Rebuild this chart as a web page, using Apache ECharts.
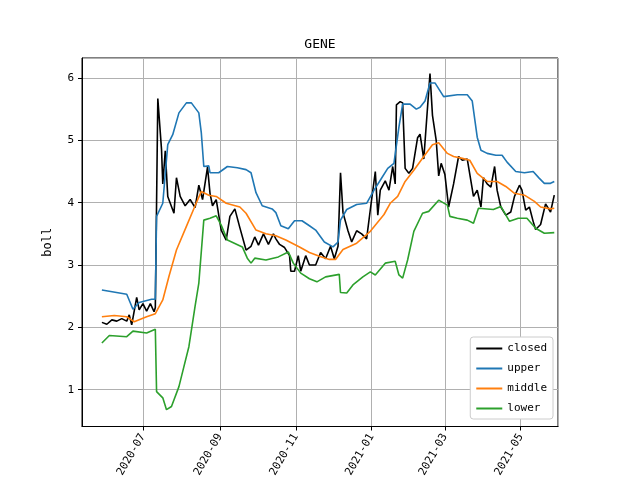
<!DOCTYPE html>
<html>
<head>
<meta charset="utf-8">
<script src="https://cdn.jsdelivr.net/npm/echarts@6/dist/echarts.min.js"></script>
<style>html,body{margin:0;padding:0;background:#fff}#chart{width:640px;height:480px}</style>
</head>
<body>
<div id="chart"></div>
<script>
var closedData = [
    ["2020-05-29",2.08],["2020-06-02",2.05],["2020-06-06",2.12],["2020-06-10",2.10],["2020-06-14",2.14],
    ["2020-06-18",2.10],["2020-06-20",2.20],["2020-06-22",2.04],["2020-06-26",2.48],["2020-06-28",2.28],
    ["2020-07-01",2.38],["2020-07-04",2.26],["2020-07-07",2.38],["2020-07-10",2.25],["2020-07-11",2.32],
    ["2020-07-13",5.67],["2020-07-16",4.85],["2020-07-17",4.30],["2020-07-19",4.83],["2020-07-21",4.10],
    ["2020-07-26",3.83],["2020-07-28",4.40],["2020-07-31",4.10],["2020-08-04",3.95],["2020-08-08",4.05],
    ["2020-08-12",3.92],["2020-08-15",4.28],["2020-08-18",4.05],["2020-08-22",4.57],["2020-08-24",4.15],
    ["2020-08-26",3.95],["2020-08-29",4.05],["2020-09-02",3.56],["2020-09-06",3.40],["2020-09-09",3.78],
    ["2020-09-13",3.90],["2020-09-17",3.60],["2020-09-22",3.24],["2020-09-26",3.30],["2020-09-29",3.45],
    ["2020-10-02",3.32],["2020-10-06",3.50],["2020-10-10",3.33],["2020-10-14",3.50],["2020-10-16",3.42],
    ["2020-10-19",3.33],["2020-10-23",3.28],["2020-10-27",3.15],["2020-10-28",2.90],["2020-10-31",2.90],
    ["2020-11-03",3.15],["2020-11-05",2.90],["2020-11-09",3.15],["2020-11-12",3.00],["2020-11-17",3.00],
    ["2020-11-21",3.20],["2020-11-25",3.10],["2020-11-29",3.30],["2020-12-02",3.10],["2020-12-05",3.30],
    ["2020-12-07",4.48],["2020-12-09",3.84],["2020-12-13",3.55],["2020-12-16",3.37],["2020-12-20",3.55],
    ["2020-12-24",3.50],["2020-12-28",3.42],["2020-12-31",3.89],["2021-01-04",4.50],["2021-01-06",3.80],
    ["2021-01-08",4.20],["2021-01-12",4.35],["2021-01-15",4.20],["2021-01-18",4.58],["2021-01-20",4.30],
    ["2021-01-21",5.57],["2021-01-24",5.62],["2021-01-26",5.60],["2021-01-28",4.55],["2021-01-31",4.47],
    ["2021-02-03",4.55],["2021-02-07",5.04],["2021-02-09",5.10],["2021-02-12",4.70],["2021-02-17",6.07],
    ["2021-02-19",5.40],["2021-02-22",5.00],["2021-02-24",4.43],["2021-02-26",4.63],["2021-03-01",4.45],
    ["2021-03-04",3.93],["2021-03-08",4.30],["2021-03-12",4.74],["2021-03-15",4.68],["2021-03-19",4.70],
    ["2021-03-24",4.10],["2021-03-27",4.20],["2021-03-30",3.93],["2021-04-01",4.40],["2021-04-04",4.30],
    ["2021-04-07",4.25],["2021-04-10",4.58],["2021-04-12",4.20],["2021-04-15",3.93],["2021-04-19",3.80],
    ["2021-04-23",3.85],["2021-04-26",4.10],["2021-04-30",4.28],["2021-05-02",4.20],["2021-05-05",3.88],
    ["2021-05-08",3.93],["2021-05-11",3.70],["2021-05-13",3.57],["2021-05-17",3.65],["2021-05-21",3.98],
    ["2021-05-25",3.85],["2021-05-28",4.12]
];
var upperData = [
    ["2020-05-29",2.60],["2020-06-18",2.53],["2020-06-23",2.29],["2020-06-28",2.40],["2020-07-08",2.45],
    ["2020-07-11",2.45],["2020-07-12",3.78],["2020-07-17",3.99],["2020-07-21",4.93],["2020-07-25",5.09],
    ["2020-07-30",5.44],["2020-08-05",5.60],["2020-08-09",5.60],["2020-08-15",5.44],["2020-08-17",5.12],
    ["2020-08-19",4.58],["2020-08-23",4.59],["2020-08-24",4.48],["2020-08-31",4.48],["2020-09-07",4.58],
    ["2020-09-15",4.56],["2020-09-22",4.53],["2020-09-26",4.48],["2020-09-30",4.16],["2020-10-05",3.95],
    ["2020-10-13",3.90],["2020-10-16",3.84],["2020-10-20",3.63],["2020-10-26",3.58],["2020-10-31",3.71],
    ["2020-11-06",3.71],["2020-11-12",3.63],["2020-11-17",3.56],["2020-11-24",3.37],["2020-12-01",3.29],
    ["2020-12-05",3.37],["2020-12-07",3.72],["2020-12-12",3.89],["2020-12-20",3.97],["2020-12-28",3.99],
    ["2021-01-03",4.20],["2021-01-08",4.36],["2021-01-14",4.55],["2021-01-19",4.63],["2021-01-23",5.21],
    ["2021-01-26",5.58],["2021-02-01",5.58],["2021-02-06",5.50],["2021-02-09",5.53],["2021-02-13",5.63],
    ["2021-02-17",5.92],["2021-02-21",5.92],["2021-02-28",5.70],["2021-03-11",5.73],["2021-03-19",5.73],
    ["2021-03-23",5.63],["2021-03-27",5.05],["2021-03-30",4.84],["2021-04-04",4.79],["2021-04-11",4.76],
    ["2021-04-16",4.76],["2021-04-20",4.65],["2021-04-27",4.50],["2021-05-04",4.48],["2021-05-11",4.50],
    ["2021-05-16",4.39],["2021-05-20",4.31],["2021-05-25",4.31],["2021-05-28",4.34]
];
var middleData = [
    ["2020-05-29",2.17],["2020-06-08",2.19],["2020-06-18",2.17],["2020-06-24",2.09],["2020-07-04",2.17],
    ["2020-07-11",2.22],["2020-07-17",2.44],["2020-07-22",2.82],["2020-07-28",3.24],["2020-08-05",3.62],
    ["2020-08-12",3.95],["2020-08-17",4.18],["2020-08-23",4.12],["2020-08-29",4.10],["2020-09-06",3.99],
    ["2020-09-17",3.93],["2020-09-22",3.83],["2020-09-30",3.56],["2020-10-08",3.50],["2020-10-16",3.47],
    ["2020-10-24",3.40],["2020-11-04",3.29],["2020-11-12",3.20],["2020-11-20",3.14],["2020-11-28",3.09],
    ["2020-12-03",3.09],["2020-12-09",3.25],["2020-12-20",3.35],["2020-12-31",3.54],["2021-01-11",3.81],
    ["2021-01-16",3.99],["2021-01-22",4.10],["2021-01-28",4.34],["2021-02-04",4.52],["2021-02-12",4.74],
    ["2021-02-19",4.93],["2021-02-24",4.96],["2021-03-03",4.79],["2021-03-08",4.74],["2021-03-15",4.71],
    ["2021-03-21",4.68],["2021-03-27",4.47],["2021-04-04",4.34],["2021-04-12",4.34],["2021-04-19",4.26],
    ["2021-04-26",4.15],["2021-05-04",4.12],["2021-05-12",4.02],["2021-05-17",3.93],["2021-05-25",3.90],
    ["2021-05-28",3.91]
];
var lowerData = [
    ["2020-05-29",1.75],["2020-06-04",1.87],["2020-06-18",1.85],["2020-06-23",1.94],["2020-07-04",1.91],
    ["2020-07-11",1.97],["2020-07-12",0.97],["2020-07-17",0.87],["2020-07-20",0.68],["2020-07-24",0.73],
    ["2020-07-30",1.05],["2020-08-03",1.37],["2020-08-07",1.69],["2020-08-12",2.34],["2020-08-15",2.71],
    ["2020-08-19",3.72],["2020-08-24",3.75],["2020-08-29",3.79],["2020-09-02",3.64],["2020-09-07",3.40],
    ["2020-09-19",3.29],["2020-09-23",3.11],["2020-09-26",3.03],["2020-09-29",3.11],["2020-10-08",3.08],
    ["2020-10-18",3.13],["2020-10-26",3.21],["2020-10-30",3.03],["2020-11-05",2.87],["2020-11-12",2.78],
    ["2020-11-18",2.73],["2020-11-25",2.81],["2020-12-06",2.85],["2020-12-07",2.56],["2020-12-12",2.55],
    ["2020-12-17",2.68],["2020-12-25",2.81],["2020-12-31",2.89],["2021-01-04",2.84],["2021-01-12",3.03],
    ["2021-01-20",3.06],["2021-01-23",2.84],["2021-01-26",2.79],["2021-01-30",3.08],["2021-02-04",3.54],
    ["2021-02-11",3.83],["2021-02-16",3.86],["2021-02-24",4.04],["2021-03-03",3.96],["2021-03-05",3.78],
    ["2021-03-11",3.75],["2021-03-19",3.72],["2021-03-24",3.67],["2021-03-28",3.91],["2021-04-09",3.89],
    ["2021-04-15",3.94],["2021-04-22",3.70],["2021-04-29",3.75],["2021-05-06",3.75],["2021-05-13",3.59],
    ["2021-05-20",3.51],["2021-05-28",3.52]
];
var seriesNames = ["closed", "upper", "middle", "lower"];
var seriesColors = ["#000000", "#1f77b4", "#ff7f0e", "#2ca02c"];

var FONT = "DejaVu Sans Mono";
var TWO_MONTHS = 61 * 24 * 3600 * 1000;

function makeSeries(i, d) {
    return {
        name: seriesNames[i],
        type: "line",
        data: d,
        showSymbol: false,
        symbol: "none",
        lineStyle: {width: 1.6, color: seriesColors[i]},
        itemStyle: {color: seriesColors[i]}
    };
}

var chart = echarts.init(document.getElementById("chart"), null, {renderer: "canvas"});
chart.setOption({
    animation: false,
    backgroundColor: "#fff",
    title: {
        text: "GENE", left: "center", top: 33,
        textStyle: {fontFamily: FONT, fontSize: 13, fontWeight: "normal", color: "#000"}
    },
    legend: {
        orient: "vertical", right: 87, bottom: 61,
        itemWidth: 26, itemHeight: 2, itemGap: 9,
        padding: [6, 6, 5, 6],
        borderColor: "#ccc", borderWidth: 1, borderRadius: 3, backgroundColor: "#fff",
        icon: "rect",
        textStyle: {fontFamily: FONT, fontSize: 11, color: "#000"},
        data: seriesNames
    },
    grid: {left: 82, right: 82, top: 58, bottom: 53, show: true, borderColor: "#000", borderWidth: 1},
    xAxis: {
        type: "time",
        min: "2020-05-13", max: "2021-05-31",
        minInterval: TWO_MONTHS, maxInterval: TWO_MONTHS,
        axisLine: {show: true, lineStyle: {color: "#000"}},
        axisTick: {show: true, length: 4, lineStyle: {color: "#000"}},
        axisLabel: {
            rotate: 60, color: "#000", fontFamily: FONT, fontSize: 11,
            formatter: "{yyyy}-{MM}", hideOverlap: false
        },
        splitLine: {show: true, lineStyle: {color: "#b0b0b0", width: 1}}
    },
    yAxis: {
        type: "value", min: 0.41, max: 6.32,
        name: "boll", nameLocation: "middle", nameGap: 28,
        nameTextStyle: {fontFamily: FONT, fontSize: 12, color: "#000"},
        axisLine: {show: true, lineStyle: {color: "#000"}},
        axisTick: {show: true, length: 4, lineStyle: {color: "#000"}},
        axisLabel: {color: "#000", fontFamily: FONT, fontSize: 11, showMinLabel: false, showMaxLabel: false},
        splitLine: {show: true, lineStyle: {color: "#b0b0b0", width: 1}}
    },
    series: [
        makeSeries(0, closedData),
        makeSeries(1, upperData),
        makeSeries(2, middleData),
        makeSeries(3, lowerData)
    ]
});
</script>
</body>
</html>
